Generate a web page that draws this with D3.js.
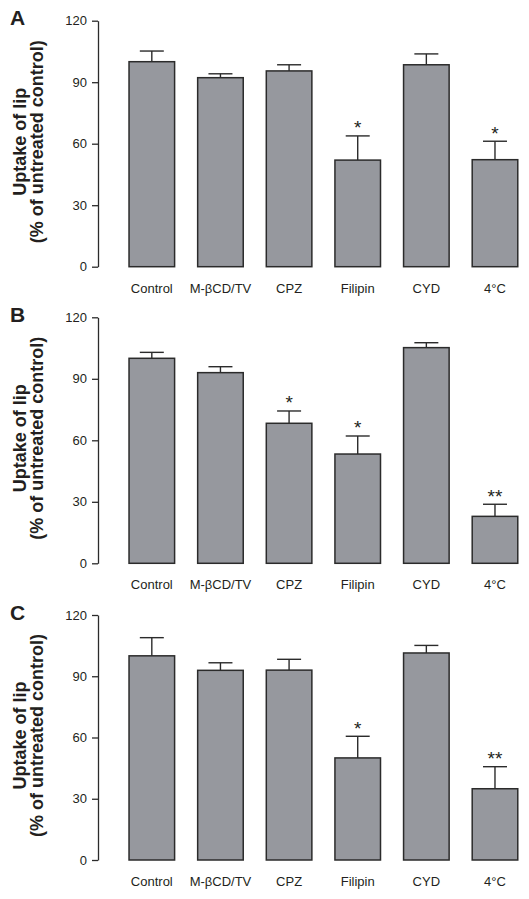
<!DOCTYPE html>
<html>
<head>
<meta charset="utf-8">
<script src="https://cdn.jsdelivr.net/npm/d3@7"></script>
<style>
  html, body { margin: 0; padding: 0; background: #fff; }
  svg { display: block; }
  text { font-family: "Liberation Sans", Arial, sans-serif; fill: #231f20; }
</style>
</head>
<body>
<script>
const categories = ["Control", "M-\u03B2CD/TV", "CPZ", "Filipin", "CYD", "4\u00B0C"];
const yTicks = [0, 30, 60, 90, 120];
const panelLetters = ["A", "B", "C"];

const meansA = [100, 92.2, 95.5, 52.0, 98.5, 52.2];
const errA   = [5.2, 1.9, 3.0, 11.8, 5.3, 9.0];
const sigA   = ["", "", "", "*", "", "*"];

const meansB = [100, 93.0, 68.3, 53.3, 105.2, 22.9];
const errB   = [2.9, 2.9, 6.0, 8.8, 2.4, 5.9];
const sigB   = ["", "", "*", "*", "", "**"];

const meansC = [100, 92.9, 93.0, 50.0, 101.4, 34.9];
const errC   = [8.9, 3.7, 5.3, 10.6, 3.7, 10.8];
const sigC   = ["", "", "", "*", "", "**"];

const yLabel1 = "Uptake of lip";
const yLabel2 = "(% of untreated control)";

const panels = [
  { letter: panelLetters[0], means: meansA, err: errA, sig: sigA, top: 20.7, bottom: 266.7 },
  { letter: panelLetters[1], means: meansB, err: errB, sig: sigB, top: 317.3, bottom: 563.3 },
  { letter: panelLetters[2], means: meansC, err: errC, sig: sigC, top: 615, bottom: 860 }
];

const W = 529, H = 899;
const svg = d3.select("body").append("svg").attr("width", W).attr("height", H);

const axisX = 98;
const x = d3.scaleBand().domain(categories).range([117.5, 529.3])
  .paddingInner(0.336).paddingOuter(0.168);

const ink = "#2b2b2b";
const barFill = "#96989e";

panels.forEach(p => {
  const g = svg.append("g");
  const y = d3.scaleLinear().domain([0, 120]).range([p.bottom, p.top]);

  // axis
  const ax = g.append("g").attr("transform", `translate(${axisX},0)`)
    .call(d3.axisLeft(y).tickValues(yTicks).tickSize(6).tickPadding(5).tickSizeOuter(0));
  ax.select(".domain").attr("stroke", ink).attr("stroke-width", 1.3);
  ax.selectAll(".tick line").attr("stroke", ink).attr("stroke-width", 1.3);
  ax.selectAll(".tick text").attr("font-size", 13)
    .attr("font-family", "'Liberation Sans', Arial, sans-serif").attr("fill", "#231f20");

  const data = categories.map((c, i) => ({ c, m: p.means[i], e: p.err[i], s: p.sig[i] }));

  // error bars
  data.forEach(d => {
    const cx = x(d.c) + x.bandwidth() / 2;
    g.append("line").attr("x1", cx).attr("x2", cx)
      .attr("y1", y(d.m)).attr("y2", y(d.m + d.e))
      .attr("stroke", ink).attr("stroke-width", 1.4);
    g.append("line").attr("x1", cx - 12).attr("x2", cx + 12)
      .attr("y1", y(d.m + d.e)).attr("y2", y(d.m + d.e))
      .attr("stroke", ink).attr("stroke-width", 1.4);
    if (d.s) {
      g.append("text").attr("x", cx).attr("y", y(d.m + d.e) - 1.5)
        .attr("text-anchor", "middle").attr("font-size", 19).text(d.s);
    }
  });

  // bars
  g.selectAll("rect.bar").data(data).join("rect").attr("class", "bar")
    .attr("x", d => x(d.c)).attr("width", x.bandwidth())
    .attr("y", d => y(d.m)).attr("height", d => y(0) - y(d.m))
    .attr("fill", barFill).attr("stroke", ink).attr("stroke-width", 1.5);

  // category labels
  g.selectAll("text.cat").data(categories).join("text").attr("class", "cat")
    .attr("x", d => x(d) + x.bandwidth() / 2).attr("y", p.bottom + 26)
    .attr("text-anchor", "middle").attr("font-size", 13).text(d => d);

  // y label
  const cy = (p.top + p.bottom) / 2 - 2;
  const lab = g.append("text").attr("transform", `translate(0,${cy}) rotate(-90)`)
    .attr("text-anchor", "middle").attr("font-size", 18).attr("font-weight", "bold");
  lab.append("tspan").attr("x", 0).attr("y", 26).text(yLabel1);
  lab.append("tspan").attr("x", 0).attr("y", 43).text(yLabel2);

  // panel letter
  g.append("text").attr("x", 10).attr("y", p.top + 4.5)
    .attr("font-size", 21).attr("font-weight", "bold").text(p.letter);
});
</script>
</body>
</html>
